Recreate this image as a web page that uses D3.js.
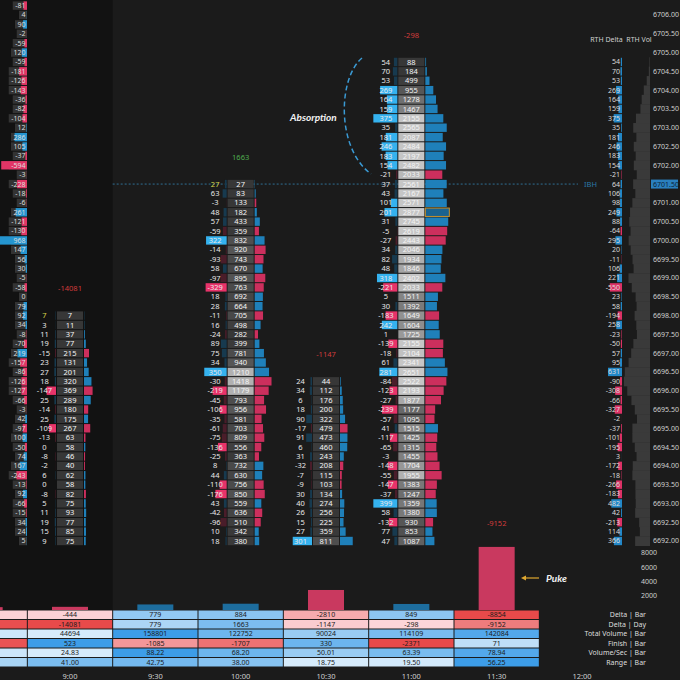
<!DOCTYPE html>
<html><head><meta charset="utf-8">
<script src="https://cdn.jsdelivr.net/npm/d3@7"></script>
<style>body{margin:0;background:#1b1b1b;}svg{display:block;}</style>
</head><body>
<svg id="c" width="680" height="680"></svg>
<script>
// ---------------- DATA ----------------
const tickTimes = ["9:00","9:30","10:00","10:30","11:00","11:30","12:00"];
const barTimes = ["8:30","9:00","9:30","10:00","10:30","11:00","11:30"];
const deltaBar = [-400,-444,779,884,-2810,849,-8854];
const deltaDay = [-13637,-14081,779,1663,-1147,-298,-9152];
const totalVolume = [52000,44694,158801,122752,90024,114109,142084];
const finishBar = [-2200,523,-1085,-1707,330,-2371,71];
const volPerSec = [28.90,24.83,88.22,68.20,50.01,63.39,78.94];
const rangeBar = [30.00,41.00,42.75,38.00,18.75,19.50,56.25];
const tableLabels = ["Delta | Bar","Delta | Day","Total Volume | Bar","Finish | Bar","Volume/Sec | Bar","Range | Bar"];

const fpTimes = ["9:00","10:00","10:30","11:00","11:30"];
const fpTopPrice = [6698.00,6701.50,6696.25,6704.75,6691.75];
const fpOpenPrice = [6698.00,6701.50,null,null,null];
const fpDayDelta = [-14081,1663,-1147,-298,-9152];

const delta0900 = [7,3,11,19,-15,23,27,18,-147,25,-14,25,-109,-13,0,-8,-2,6,0,-8,5,11,19,15,9];
const vol0900 = [7,11,37,77,215,131,201,320,369,289,180,175,267,63,58,46,40,62,58,82,75,93,77,85,75];
const delta1000 = [27,63,-3,48,57,-59,322,-14,-93,58,-97,-329,18,28,-11,16,-24,89,75,34,350,-30,-219,-45,-106,-35,-61,-75,-136,-25,8,44,-110,-176,43,-42,-96,10,18];
const vol1000 = [27,83,133,182,433,359,832,920,743,670,895,763,692,664,705,498,282,399,781,940,1210,1418,1179,793,956,581,703,809,556,363,732,630,756,850,559,636,510,342,380];
const delta1030 = [24,34,6,18,90,-17,91,6,31,-32,-7,-9,30,40,26,15,27,301];
const vol1030 = [44,112,176,200,322,479,473,460,243,208,115,103,134,274,256,225,359,811];
const delta1100 = [54,70,53,269,164,159,375,35,181,246,183,154,-21,37,43,101,201,31,-5,-27,34,82,48,318,-221,5,30,-183,242,1,-139,-18,61,281,-84,-123,-27,-239,-57,41,-117,-65,-3,-148,-55,-147,-37,399,58,-132,77,47];
const vol1100 = [88,184,499,955,1278,1467,2155,2565,2087,2484,2197,2482,2033,2561,2167,2571,2877,2745,2619,2443,2046,1934,1846,2402,2033,1511,1392,1649,1604,1725,2155,2104,2341,2651,2522,2193,1877,1177,1095,1515,1425,1315,1455,1704,1955,1383,1247,1359,1380,930,853,1087];

const leftTopPrice = 6706.25;
const leftDelta = [-81,4,90,-2,-59,120,-59,-181,-126,-143,-36,-82,-104,12,286,105,-37,-594,-3,-228,-18,-6,261,-121,-130,968,147,56,30,-5,-58,0,79,92,34,-8,-70,219,-157,-86,-126,-127,-66,-3,42,-97,100,-50,74,167,-243,-13,92,-66,-15,34,24,5];

const rthTimes = ["10:00","10:30","11:00"];
const ibhPrice = 6701.50;
const highlightCell = {time:"11:00", price:6700.75};
const histTicks = [2000,4000,6000,8000];

// ---------------- SETUP ----------------
const TICK = 0.25;
const FONT = "'Noto Sans','Open Sans',sans-serif";
const svg = d3.select("#c");
const toMin = t => { const [h,m] = t.split(":").map(Number); return h*60+m; };
const x = d3.scaleLinear().domain([toMin("9:00"), toMin("12:00")]).range([70, 582]);
const y = d3.scaleLinear().domain([6692, 6706]).range([541, 15]);
const rowH = y(0) - y(TICK);
const colW = x(toMin("9:30")) - x(toMin("9:00"));
const key = p => p.toFixed(2);

const BLUE_BRIGHT = "#35b2ef", PINK_BRIGHT = "#e8336a";
const BLUE_DARK = "#173a4f", PINK_DARK = "#4a1d2a";
const BLUE_HIST = "#1f80ba", PINK_HIST = "#cc2f5d";

svg.append("rect").attr("width",680).attr("height",680).attr("fill","#1b1b1b");
const rthStartX = x(toMin("9:30")) - colW/2;
svg.append("rect").attr("x",0).attr("y",0).attr("width",rthStartX).attr("height",610).attr("fill","#121212");

svg.append("defs").append("clipPath").attr("id","fpClip")
  .append("rect").attr("x",0).attr("y",0).attr("width",680).attr("height",546);
const fp = svg.append("g").attr("clip-path","url(#fpClip)");

// IBH line
fp.append("line").attr("x1",rthStartX).attr("x2",578).attr("y1",y(ibhPrice)).attr("y2",y(ibhPrice))
  .attr("stroke","#2f6f93").attr("stroke-dasharray","2,2").attr("stroke-width",1);
fp.append("text").attr("x",584).attr("y",y(ibhPrice)).attr("dy","0.35em").text("IBH")
  .attr("fill","#2b78a8").attr("font-size",7.5).attr("font-family",FONT);

// ---------------- LEFT PROFILE ----------------
const leftScale = d3.scaleLinear().domain([0,968]).range([0,42]);
const leftG = fp.append("g");
leftDelta.forEach((d,i) => {
  const yc = y(leftTopPrice - i*TICK);
  const g = leftG.append("g");
  const bg = g.append("rect");
  const w = Math.min(27, leftScale(Math.abs(d)));
  g.append("rect").attr("x",27-w).attr("y",yc-rowH/2+0.5).attr("width",w).attr("height",rowH-1)
    .attr("fill", d>=0 ? "#2595d0" : "#e23566");
  const t = g.append("text").attr("x",25.5).attr("y",yc).attr("dy","0.35em").attr("text-anchor","end")
    .attr("fill","#dcdcdc").attr("font-size",7).attr("font-family",FONT).text(d);
  const tw = t.node().getComputedTextLength();
  bg.attr("x",27-tw-4).attr("y",yc-rowH/2+0.5).attr("width",tw+4).attr("height",rowH-1).attr("fill","#333");
});

// ---------------- FOOTPRINT BARS ----------------
const fpDeltaArrays = [delta0900, delta1000, delta1030, delta1100, []];
const fpVolArrays = [vol0900, vol1000, vol1030, vol1100, []];
const dScale = d3.scaleLinear().domain([0,375]).range([0,24]).clamp(true);
const maxWScale = d3.scaleSqrt().domain([0,2877]).range([0,24]);
const greyI = d3.interpolateRgb("#373737","#c6c6c6");
function volFill(v, max){
  let t = Math.max(0, Math.min(1,(v-250)/1900));
  t = Math.pow(t,1.5);
  if (v > 1000 && v/max >= 0.8) t = Math.max(t, 0.85);
  return greyI(t);
}
const priceMaps = {};
fpTimes.forEach((tm, b) => {
  const c = x(toMin(tm));
  const deltas = fpDeltaArrays[b], vols = fpVolArrays[b];
  const maxV = d3.max(vols) || 1;
  const hScale = d3.scaleLinear().domain([0, maxV]).range([0, maxWScale(maxV)]);
  const g = fp.append("g");
  priceMaps[tm] = {};
  const topY = y(fpTopPrice[b]);
  svg.append("text").attr("x",c).attr("y",topY-27).attr("dy","0.35em").attr("text-anchor","middle")
    .attr("fill", fpDayDelta[b] >= 0 ? "#4fae4f" : "#d23b3b").attr("font-size",7.5).attr("font-family",FONT)
    .text(fpDayDelta[b]);
  deltas.forEach((d,i) => {
    const p = fpTopPrice[b] - i*TICK;
    const v = vols[i];
    priceMaps[tm][key(p)] = {d, v};
    const yc = y(p), y0 = yc - rowH/2 + 0.5, h = rowH - 1;
    const w = dScale(Math.abs(d));
    const big = Math.abs(d) >= 100;
    g.append("rect").attr("x",c-14-w).attr("y",y0).attr("width",w).attr("height",h)
      .attr("fill", d>=0 ? (big?BLUE_BRIGHT:BLUE_DARK) : (big?PINK_BRIGHT:PINK_DARK));
    g.append("text").attr("x",c-25.5).attr("y",yc).attr("dy","0.35em").attr("text-anchor","middle")
      .attr("fill", (fpOpenPrice[b]!==null && p===fpOpenPrice[b]) ? "#d6d64a" : "#e8e8e8")
      .attr("font-size",7.5).attr("font-family",FONT).text(d);
    g.append("rect").attr("x",c-13).attr("y",y0).attr("width",26).attr("height",h).attr("fill",volFill(v,maxV));
    g.append("text").attr("x",c).attr("y",yc).attr("dy","0.35em").attr("text-anchor","middle")
      .attr("fill","#f4f4f4").attr("font-size",7.5).attr("font-family",FONT).text(v);
    const hw = hScale(v);
    const hr = g.append("rect").attr("x",c+14).attr("y",y0).attr("width",hw).attr("height",h)
      .attr("fill", d>=0 ? BLUE_HIST : PINK_HIST);
    if (tm===highlightCell.time && p===highlightCell.price) {
      hr.attr("fill","#1a6390");
      g.append("rect").attr("x",c+14).attr("y",y0).attr("width",24).attr("height",h)
        .attr("fill","none").attr("stroke","#c8922c").attr("stroke-width",1);
    }
  });
});

// ---------------- RTH PROFILE ----------------
const rthPrices = d3.range(0, Math.round((6704.75-6692)/TICK)+1).map(i => 6704.75 - i*TICK);
const rthData = rthPrices.map(p => {
  let d = 0, v = 0;
  rthTimes.forEach(tm => { const r = priceMaps[tm][key(p)]; if (r) { d += r.d; v += r.v; } });
  return {p, d, v};
});
const rthDScale = d3.scaleLinear().domain([0, d3.max(rthData, r => Math.abs(r.d))]).range([0,14]);
const rthVScale = d3.scaleLinear().domain([0, d3.max(rthData, r => r.v)]).range([0,26]);
const rg = fp.append("g");
rthData.forEach(r => {
  const yc = y(r.p);
  const w = rthVScale(r.v);
  rg.append("rect").attr("x",650-w).attr("y",yc-rowH/2).attr("width",w).attr("height",rowH+0.3).attr("fill","#3a3a3a");
  const dw = rthDScale(Math.abs(r.d));
  rg.append("rect").attr("x",622-dw).attr("y",yc-rowH/2+0.5).attr("width",dw).attr("height",rowH-1)
    .attr("fill", r.d>=0 ? "#2288c8" : "#dd3166");
  rg.append("text").attr("x",620).attr("y",yc).attr("dy","0.35em").attr("text-anchor","end")
    .attr("fill","#dcdcdc").attr("font-size",7).attr("font-family",FONT).text(r.d);
});
svg.append("text").attr("x",606.5).attr("y",42).attr("text-anchor","middle").attr("fill","#cfcfcf")
  .attr("font-size",7).attr("font-family",FONT).text("RTH Delta");
svg.append("text").attr("x",639).attr("y",42).attr("text-anchor","middle").attr("fill","#cfcfcf")
  .attr("font-size",7).attr("font-family",FONT).text("RTH Vol");

// price axis
const priceTicks = d3.range(0, 29).map(i => 6692 + i*0.5);
const pa = fp.append("g");
priceTicks.forEach(p => {
  const hl = p === ibhPrice;
  if (hl) pa.append("rect").attr("x",651).attr("y",y(p)-4.5).attr("width",27).attr("height",9).attr("fill","#2a80bf");
  pa.append("text").attr("x",653).attr("y",y(p)).attr("dy","0.35em").attr("fill", hl ? "#0c2236" : "#cfcfcf")
    .attr("font-size",7).attr("font-family",FONT).text(p.toFixed(2));
});

// ---------------- DELTA HISTOGRAM ----------------
const hy = d3.scaleLinear().domain([0,8000]).range([610,553]);
barTimes.forEach((tm,j) => {
  const c = x(toMin(tm)), v = deltaBar[j];
  svg.append("rect").attr("x",c-18).attr("y",hy(Math.abs(v))).attr("width",36)
    .attr("height",610-hy(Math.abs(v))).attr("fill", v>=0 ? "#1d6d9e" : "#c9395f");
});
histTicks.forEach(v => {
  svg.append("text").attr("x",641).attr("y",hy(v)).attr("dy","0.35em").attr("fill","#cfcfcf")
    .attr("font-size",7).attr("font-family",FONT).text(v);
});

// ---------------- TABLE ----------------
const blueI = d3.interpolateRgb("#d6ebfb","#3d9de8");
const redI = d3.interpolateRgb("#fcd8dc","#e84a4a");
const tableRows = [
  {vals: deltaBar, signed:true, fmt: d => d},
  {vals: deltaDay, signed:true, fmt: d => d},
  {vals: totalVolume, signed:false, fmt: d => d},
  {vals: finishBar, signed:true, fmt: d => d},
  {vals: volPerSec, signed:false, fmt: d => d.toFixed(2)},
  {vals: rangeBar, signed:false, fmt: d => d.toFixed(2)}
];
const TT = 610, TR = 9.5;
tableRows.forEach((row, r) => {
  const vals = row.vals;
  const maxAbs = d3.max(vals, Math.abs), mn = d3.min(vals), mx = d3.max(vals);
  vals.forEach((v, j) => {
    const c = x(toMin(barTimes[j]));
    let fill;
    if (row.signed) {
      fill = v >= 0 ? blueI(Math.min(1, v/(0.2*maxAbs))) : redI(Math.abs(v)/maxAbs);
    } else {
      fill = blueI((v-mn)/(mx-mn));
    }
    svg.append("rect").attr("x",c-colW/2+0.5).attr("y",TT+r*TR+0.5).attr("width",colW-1).attr("height",TR-1)
      .attr("fill",fill);
    if (c > 20) {
      svg.append("text").attr("x",c).attr("y",TT+r*TR+TR/2).attr("dy","0.35em").attr("text-anchor","middle")
        .attr("fill","#1c1c1c").attr("font-size",7).attr("font-family",FONT).text(row.fmt(v));
    }
  });
  svg.append("text").attr("x",646).attr("y",TT+r*TR+TR/2).attr("dy","0.35em").attr("text-anchor","end")
    .attr("fill","#dedede").attr("font-size",7).attr("font-family",FONT).text(tableLabels[r]);
});

// time axis
tickTimes.forEach(tm => {
  svg.append("text").attr("x",x(toMin(tm))).attr("y",676).attr("dy","0.35em").attr("text-anchor","middle")
    .attr("fill","#cfcfcf").attr("font-size",7.5).attr("font-family",FONT).text(tm);
});

// ---------------- ANNOTATIONS ----------------
svg.append("text").attr("x",290).attr("y",117).attr("dy","0.35em").attr("fill","#f2f2f2")
  .attr("font-size",10).attr("font-weight","bold").attr("font-style","italic").attr("font-family","Lato,sans-serif")
  .text("Absorption");
svg.append("path").attr("d","M362,58 C338,78 336,148 371,174").attr("fill","none")
  .attr("stroke","#3a9ad4").attr("stroke-width",1.5).attr("stroke-dasharray","5,3");
svg.append("line").attr("x1",539).attr("x2",524).attr("y1",578).attr("y2",578).attr("stroke","#e0a830").attr("stroke-width",1.2);
svg.append("path").attr("d","M521,578 L526,575.5 L526,580.5 Z").attr("fill","#e0a830");
svg.append("text").attr("x",546).attr("y",578).attr("dy","0.35em").attr("fill","#f2f2f2")
  .attr("font-size",10).attr("font-weight","bold").attr("font-style","italic").attr("font-family","Lato,sans-serif")
  .text("Puke");
</script>
</body></html>
